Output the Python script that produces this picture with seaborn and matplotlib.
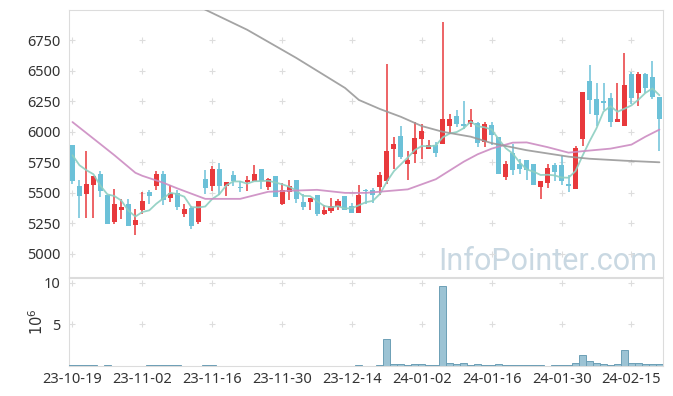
import numpy as np
import pandas as pd
import matplotlib
matplotlib.use("Agg")
import matplotlib.pyplot as plt
import seaborn as sns

# ---------------- data ----------------
opens = [5891, 5554, 5491, 5565, 5653, 5480, 5260, 5356, 5406, 5235,
         5362, 5505, 5556, 5653, 5461, 5499, 5323, 5373, 5258, 5612,
         5554, 5694, 5554, 5644, 5551, 5589, 5595, 5694, 5548, 5636,
         5408, 5507, 5603, 5422, 5425, 5480, 5329, 5348, 5384, 5472,
         5389, 5334, 5521, 5521, 5548, 5598, 5856, 5965, 5738, 5823,
         5943, 5861, 5891, 5902, 6050, 6130, 6064, 6067, 6070, 5919,
         6056, 5955, 5631, 5828, 5735, 5768, 5735, 5548, 5584, 5727,
         5727, 5570, 5532, 5941, 6418, 6270, 6248, 6276, 6083, 6048,
         6476, 6322, 6476, 6449, 6284]
highs = [5891, 5603, 5842, 5636, 5677, 5480, 5535, 5447, 5449, 5365,
         5507, 5521, 5680, 5677, 5562, 5521, 5412, 5389, 5430, 5686,
         5719, 5746, 5589, 5680, 5595, 5636, 5727, 5694, 5626, 5636,
         5581, 5603, 5603, 5494, 5458, 5480, 5398, 5461, 5447, 5472,
         5420, 5568, 5535, 5540, 5672, 6558, 5955, 6048, 5842, 6083,
         6062, 5933, 5919, 6901, 6147, 6180, 6256, 6185, 6083, 6083,
         6083, 5955, 5762, 5900, 5782, 5768, 5735, 5595, 5741, 5746,
         5801, 5644, 5883, 6330, 6550, 6404, 6404, 6317, 6404, 6646,
         6495, 6495, 6487, 6585, 6284]
lows = [5570, 5296, 5296, 5296, 5466, 5244, 5244, 5282, 5225, 5153,
        5329, 5412, 5521, 5403, 5425, 5356, 5301, 5206, 5247, 5494,
        5513, 5486, 5474, 5554, 5507, 5515, 5595, 5535, 5521, 5466,
        5403, 5444, 5420, 5356, 5356, 5309, 5321, 5334, 5362, 5356,
        5334, 5334, 5412, 5416, 5480, 5570, 5700, 5774, 5603, 5746,
        5782, 5856, 5795, 5902, 5993, 6040, 6021, 6037, 5877, 5877,
        5891, 5653, 5609, 5644, 5658, 5603, 5562, 5453, 5543, 5598,
        5562, 5507, 5532, 5883, 6147, 6048, 6180, 6037, 6083, 6048,
        6226, 6215, 6317, 6267, 5842]
closes = [5598, 5474, 5570, 5636, 5515, 5244, 5406, 5381, 5225, 5274,
          5430, 5474, 5653, 5444, 5499, 5384, 5365, 5225, 5430, 5537,
          5694, 5554, 5589, 5595, 5537, 5603, 5653, 5595, 5612, 5466,
          5527, 5554, 5449, 5381, 5458, 5323, 5356, 5389, 5430, 5362,
          5334, 5480, 5513, 5486, 5644, 5842, 5905, 5795, 5768, 5949,
          6007, 5891, 5828, 6105, 6105, 6067, 6050, 6097, 5910, 6064,
          5974, 5653, 5733, 5691, 5700, 5686, 5562, 5595, 5702, 5672,
          5598, 5556, 5869, 6330, 6262, 6138, 6240, 6083, 6105, 6385,
          6276, 6476, 6358, 6289, 6105]
# volume in millions
volumes = [0.15, 0.15, 0.15, 0.15, 0.02, 0.12, 0.02, 0.02, 0.02, 0.02,
           0.02, 0.12, 0.12, 0.12, 0.12, 0.12, 0.02, 0.02, 0.02, 0.12,
           0.12, 0.02, 0.02, 0.02, 0.02, 0.02, 0.02, 0.02, 0.02, 0.02,
           0.02, 0.02, 0.02, 0.02, 0.02, 0.02, 0.02, 0.02, 0.02, 0.02,
           0.02, 0.12, 0.02, 0.02, 0.12, 3.25, 0.28, 0.28, 0.16, 0.28,
           0.28, 0.16, 0.16, 9.68, 0.36, 0.28, 0.40, 0.16, 0.24, 0.16,
           0.16, 0.28, 0.16, 0.16, 0.16, 0.16, 0.16, 0.16, 0.02, 0.16,
           0.16, 0.16, 0.36, 1.35, 0.60, 0.36, 0.24, 0.14, 0.26, 1.95,
           0.36, 0.36, 0.26, 0.26, 0.26]
# first MA5 values (need history before the window)
ma5_head = [5809, 5727, 5686, 5653]
# MA20 / MA60 at selected candles
ma20_idx = [0, 4, 6, 9, 10, 13, 15, 19, 24, 28, 31, 35, 39, 42, 48, 52, 56,
            58, 60, 63, 65, 68, 71, 73, 77, 80, 82, 84]
ma20_val = [6081, 5900, 5809, 5665, 5640, 5583, 5537, 5451, 5451, 5509, 5517,
            5525, 5500, 5500, 5529, 5612, 5756, 5817, 5863, 5912, 5914, 5875,
            5830, 5842, 5863, 5896, 5961, 6019]
ma60_idx = [18, 19, 25, 32, 39, 41, 44, 47, 50, 53, 57, 60, 65, 71, 74, 79, 84]
ma60_val = [7036, 7003, 6838, 6608, 6361, 6262, 6188, 6124, 6048, 6001, 5961,
            5908, 5850, 5797, 5780, 5764, 5751]
tick_labels = ["23-10-19", "23-11-02", "23-11-16", "23-11-30", "23-12-14",
               "24-01-02", "24-01-16", "24-01-30", "24-02-15"]
price_ticks = [5000, 5250, 5500, 5750, 6000, 6250, 6500, 6750]
vol_ticks = [5, 10]

# ---------------- style ----------------
sns.set_theme(style="white")
plt.rcParams["font.family"] = ["Noto Sans", "DejaVu Sans"]

UP = "#e8393c"
DOWN = "#6cc1d8"
SPINE = "#dcdcdc"

n = len(closes)
idx = np.arange(n)
df = pd.DataFrame({"i": idx, "open": opens, "high": highs, "low": lows,
                   "close": closes, "volume": volumes})
ma5 = df["close"].rolling(5).mean().to_numpy()
ma5[:4] = ma5_head
df["ma5"] = ma5

fig = plt.figure(figsize=(6.73, 3.96), dpi=100)
ax = fig.add_axes([0.1025, 0.3005, 0.8825, 0.6742])
axv = fig.add_axes([0.1025, 0.0758, 0.8825, 0.2222], sharex=ax)

up = df["close"] >= df["open"]
colors = np.where(up, UP, DOWN)
body_lo = np.minimum(df["open"], df["close"])
body_h = np.maximum(np.abs(df["close"] - df["open"]), 10)

ax.vlines(df["i"], df["low"], df["high"], colors=colors, lw=1.1, zorder=2)
ax.bar(df["i"], body_h, bottom=body_lo, width=0.72, color=colors,
       linewidth=0, zorder=3)

sns.lineplot(x=df["i"], y=df["ma5"], ax=ax, color="#8dcfc1", lw=1.3,
             alpha=0.9, zorder=4)
sns.lineplot(x=ma20_idx, y=ma20_val, ax=ax, color="#cc8cc2", lw=1.3,
             alpha=0.9, zorder=4)
sns.lineplot(x=ma60_idx, y=ma60_val, ax=ax, color="#9a9a9a", lw=1.3,
             alpha=0.9, zorder=4)

ax.set_xlim(-0.5, n - 0.5)
ax.set_ylim(4810, 7000)
ax.set_yticks(price_ticks)
ax.set_ylabel("")
ax.set_xlabel("")
ax.tick_params(axis="x", labelbottom=False, length=0)
ax.tick_params(axis="y", length=0, labelsize=10.5, labelcolor="#333333", pad=6)

xt = list(range(0, n, 10))[:len(tick_labels)]
# grid crosses
gx, gy = np.meshgrid(xt, price_ticks)
ax.plot(gx.ravel(), gy.ravel(), ls="none", marker="+", ms=5, mew=0.8,
        color="#dddddd", zorder=1)

ax.text(0.99, 0.005, "InfoPointer.com", transform=ax.transAxes,
        ha="right", va="bottom", fontsize=22, color="#c9d8e2",
        family=["Roboto", "DejaVu Sans"], zorder=0)

# volume
axv.bar(df["i"], df["volume"], width=1.0, color="#9cc3d4",
        edgecolor="#6d9fb6", linewidth=0.7, zorder=3)
gx2, gy2 = np.meshgrid(xt, vol_ticks)
axv.plot(gx2.ravel(), gy2.ravel(), ls="none", marker="+", ms=5, mew=0.8,
         color="#dddddd", zorder=1)
axv.set_ylim(0, 10.6)
axv.set_yticks(vol_ticks)
axv.set_yticklabels([str(v) for v in vol_ticks])
axv.set_xticks(xt)
axv.set_xticklabels(tick_labels)
axv.tick_params(axis="x", length=0, labelsize=10.5, labelcolor="#333333", pad=4)
axv.tick_params(axis="y", length=0, labelsize=10.5, labelcolor="#333333", pad=6)
axv.set_ylabel("$10^6$", fontsize=10.5, color="#333333", labelpad=-2)
axv.set_xlabel("")

for a in (ax, axv):
    for s in a.spines.values():
        s.set_color(SPINE)
        s.set_linewidth(0.8)
    a.set_facecolor("white")

fig.savefig("out.png", dpi=100, facecolor="white")
